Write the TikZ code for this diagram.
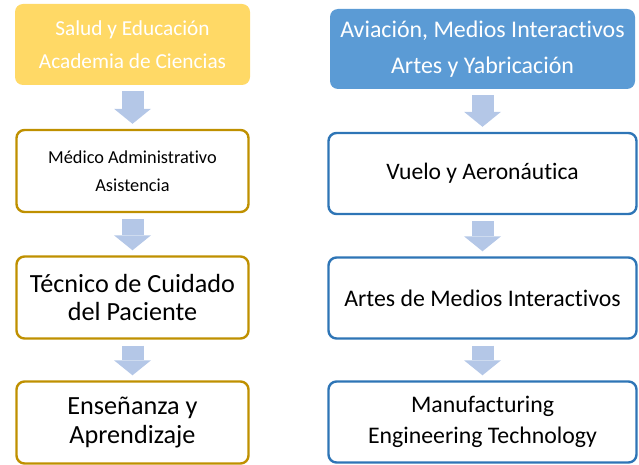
\documentclass[tikz,border=0pt]{standalone}
\usepackage{fontspec}
\setmainfont[Ligatures=NoCommon]{Carlito}
\usetikzlibrary{arrows.meta}
\definecolor{goldfill}{HTML}{FFD966}
\definecolor{goldline}{HTML}{BF9000}
\definecolor{bluefill}{HTML}{5B9BD5}
\definecolor{blueline}{HTML}{2E75B6}
\definecolor{arrowblue}{HTML}{B4C7E7}

\tikzset{
  headbox/.style={rectangle, rounded corners=8pt, align=center, text=white, inner sep=0pt},
  goldbox/.style={rectangle, rounded corners=8pt, draw=goldline, line width=2.4pt,
    align=center, minimum width=232pt, minimum height=82pt, inner sep=0pt},
  bluebox/.style={rectangle, rounded corners=8pt, draw=blueline, line width=2.4pt,
    align=center, minimum width=308pt, minimum height=81pt, inner sep=0pt},
  downarrow/.style={draw=arrowblue, line width=22pt,
    -{Triangle[length=15pt,width=37pt,line width=0pt]}, shorten <=6pt, shorten >=5pt}
}

\begin{document}
\begin{tikzpicture}[x=1pt, y=-1pt]
  \useasboundingbox (0,0) rectangle (639,465);

  % left column
  \node[headbox, fill=goldfill, minimum width=235pt, minimum height=81pt,
    font=\fontsize{21.3}{33}\selectfont] (salud) at (132.5,44.5)
    {Salud y Educación\\Academia de Ciencias};
  \node[goldbox, font=\fontsize{18.3}{28}\selectfont] (medico) at (132.5,171)
    {Médico Administrativo\\Asistencia};
  \node[goldbox, font=\fontsize{26.2}{28}\selectfont] (tecnico) at (132.5,297.5)
    {Técnico de Cuidado\\del Paciente};
  \node[goldbox, font=\fontsize{26.2}{29}\selectfont] (ensenanza) at (132.5,422.5)
    {Enseñanza y\\Aprendizaje};

  % right column
  \node[headbox, fill=bluefill, minimum width=305pt, minimum height=80pt,
    font=\fontsize{23.9}{36}\selectfont] (aviacion) at (482.5,49)
    {Aviación, Medios Interactivos\\Artes y Yabricación};
  \node[bluebox, font=\fontsize{23.6}{28}\selectfont] (vuelo) at (482.5,173.5)
    {Vuelo y Aeronáutica};
  \node[bluebox, font=\fontsize{23.8}{28}\selectfont] (artes) at (482.5,298)
    {Artes de Medios Interactivos};
  \node[bluebox, font=\fontsize{23.8}{31}\selectfont] (manufact) at (482.5,422)
    {Manufacturing\\Engineering Technology};

  % block arrows
  \draw[downarrow] (salud) -- (medico);
  \draw[downarrow] (medico) -- (tecnico);
  \draw[downarrow] (tecnico) -- (ensenanza);
  \draw[downarrow] (aviacion) -- (vuelo);
  \draw[downarrow] (vuelo) -- (artes);
  \draw[downarrow] (artes) -- (manufact);
\end{tikzpicture}
\end{document}
